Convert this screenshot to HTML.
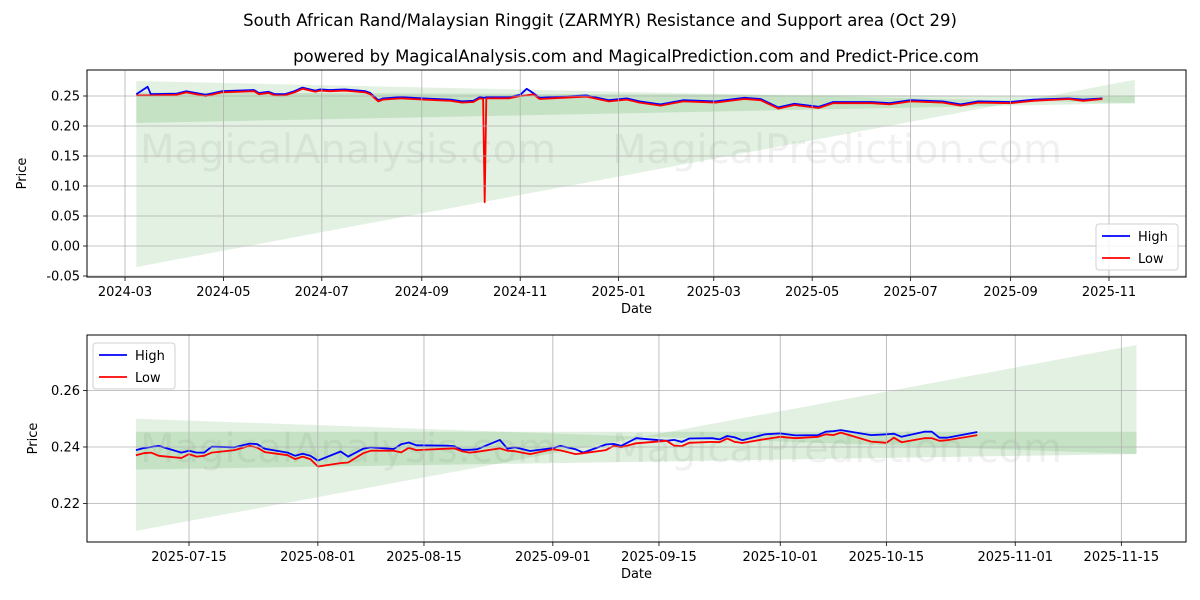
<!DOCTYPE html>
<html><head><meta charset="utf-8"><style>
html,body{margin:0;padding:0;background:#fff;}
svg{display:block;font-family:"DejaVu Sans","Liberation Sans",sans-serif;}
</style></head><body>
<svg id="chart" width="1200" height="600" viewBox="0 0 1200 600" xmlns="http://www.w3.org/2000/svg">
<rect x="0" y="0" width="1200" height="600" fill="#fff"/>
<text x="600" y="26" text-anchor="middle" font-size="16.5" fill="#000">South African Rand/Malaysian Ringgit (ZARMYR) Resistance and Support area (Oct 29)</text>
<text x="636" y="62" text-anchor="middle" font-size="16.5" fill="#000">powered by MagicalAnalysis.com and MagicalPrediction.com and Predict-Price.com</text>
<g id="top"></g>
<g id="bot"></g>
</svg>
<script>
// ---- Top panel data ----
const topDates = ["2024-03-08","2024-03-15","2024-03-17","2024-04-02","2024-04-08","2024-04-20","2024-04-30","2024-05-20","2024-05-23","2024-05-29","2024-06-02","2024-06-08","2024-06-14","2024-06-19","2024-06-27","2024-06-30","2024-07-06","2024-07-15","2024-07-28","2024-07-31","2024-08-05","2024-08-08","2024-08-19","2024-09-02","2024-09-19","2024-09-26","2024-10-03","2024-10-07","2024-10-09","2024-10-10","2024-10-11","2024-10-25","2024-11-01","2024-11-05","2024-11-09","2024-11-13","2024-11-27","2024-12-12","2024-12-26","2025-01-06","2025-01-14","2025-01-27","2025-02-10","2025-03-02","2025-03-20","2025-03-30","2025-04-10","2025-04-20","2025-05-05","2025-05-14","2025-06-07","2025-06-18","2025-07-01","2025-07-21","2025-08-01","2025-08-12","2025-09-01","2025-09-15","2025-10-07","2025-10-16","2025-10-28"];
const topHigh = [0.253,0.2655,0.253,0.254,0.258,0.252,0.258,0.260,0.255,0.257,0.253,0.253,0.258,0.264,0.259,0.261,0.260,0.261,0.258,0.255,0.243,0.246,0.248,0.246,0.244,0.241,0.242,0.248,0.247,0.247,0.248,0.248,0.252,0.262,0.255,0.247,0.249,0.251,0.243,0.246,0.241,0.236,0.243,0.241,0.247,0.245,0.231,0.237,0.232,0.240,0.240,0.238,0.243,0.241,0.236,0.241,0.240,0.244,0.246,0.244,0.246];
const topLow = [0.251,0.251,0.251,0.252,0.256,0.250,0.256,0.258,0.253,0.255,0.251,0.251,0.256,0.262,0.257,0.259,0.258,0.259,0.256,0.253,0.241,0.244,0.246,0.244,0.242,0.239,0.240,0.246,0.245,0.073,0.246,0.246,0.250,0.251,0.253,0.245,0.247,0.249,0.241,0.244,0.239,0.234,0.241,0.239,0.245,0.243,0.229,0.235,0.230,0.238,0.238,0.236,0.241,0.239,0.234,0.239,0.238,0.242,0.245,0.242,0.245];
const topBandDates = ["2024-03-08","2025-11-17"];
const topOuterUpper = [0.275,0.238];
const topOuterLower = [-0.035,0.277];
const topInnerUpper = [0.256,0.250];
const topInnerLower = [0.205,0.238];
const topYTicks = [-0.05,0.00,0.05,0.10,0.15,0.20,0.25];
const topXTicks = ["2024-03-01","2024-05-01","2024-07-01","2024-09-01","2024-11-01","2025-01-01","2025-03-01","2025-05-01","2025-07-01","2025-09-01","2025-11-01"];
const topXLabels = ["2024-03","2024-05","2024-07","2024-09","2024-11","2025-01","2025-03","2025-05","2025-07","2025-09","2025-11"];

// ---- Bottom panel data ----
const botDates = ["2025-07-08","2025-07-09","2025-07-10","2025-07-11","2025-07-14","2025-07-15","2025-07-16","2025-07-17","2025-07-18","2025-07-21","2025-07-23","2025-07-24","2025-07-25","2025-07-28","2025-07-29","2025-07-30","2025-07-31","2025-08-01","2025-08-04","2025-08-05","2025-08-07","2025-08-08","2025-08-11","2025-08-12","2025-08-13","2025-08-14","2025-08-18","2025-08-19","2025-08-20","2025-08-21","2025-08-22","2025-08-25","2025-08-26","2025-08-27","2025-08-29","2025-09-01","2025-09-02","2025-09-04","2025-09-05","2025-09-08","2025-09-09","2025-09-10","2025-09-12","2025-09-16","2025-09-17","2025-09-18","2025-09-19","2025-09-22","2025-09-23","2025-09-24","2025-09-25","2025-09-26","2025-09-29","2025-10-01","2025-10-03","2025-10-06","2025-10-07","2025-10-08","2025-10-09","2025-10-13","2025-10-15","2025-10-16","2025-10-17","2025-10-20","2025-10-21","2025-10-22","2025-10-23","2025-10-27"];
const botHigh = [0.2389,0.2396,0.2400,0.2404,0.2380,0.2387,0.2380,0.2380,0.2401,0.2399,0.2412,0.2410,0.2394,0.2380,0.2369,0.2376,0.2369,0.2352,0.2384,0.2366,0.2394,0.2399,0.2393,0.2410,0.2416,0.2406,0.2405,0.2403,0.2390,0.2390,0.2392,0.2425,0.2394,0.2399,0.2386,0.2396,0.2404,0.2392,0.2380,0.2409,0.2411,0.2404,0.2431,0.2422,0.2425,0.2418,0.2430,0.2431,0.2427,0.2439,0.2434,0.2424,0.2445,0.2448,0.2441,0.2442,0.2454,0.2456,0.2460,0.2442,0.2445,0.2447,0.2436,0.2454,0.2454,0.2433,0.2433,0.2453];
const botLow = [0.2371,0.2378,0.2380,0.2369,0.2361,0.2375,0.2366,0.2369,0.2380,0.2389,0.2404,0.2398,0.2382,0.2371,0.2357,0.2366,0.2357,0.2331,0.2343,0.2345,0.2378,0.2387,0.2387,0.2381,0.2397,0.2389,0.2394,0.2395,0.2385,0.2380,0.2383,0.2395,0.2387,0.2385,0.2375,0.2392,0.2388,0.2375,0.2378,0.2389,0.2404,0.2399,0.2413,0.2422,0.2405,0.2403,0.2415,0.2418,0.2417,0.2430,0.2418,0.2414,0.2428,0.2436,0.2431,0.2436,0.2445,0.2442,0.2451,0.2419,0.2415,0.2433,0.2417,0.2431,0.2431,0.2422,0.2424,0.2442];
const botBandDates = ["2025-07-08","2025-11-17"];
const botOuterUpper = [0.250,0.2375];
const botOuterLower = [0.2103,0.2761];
const botInnerUpper = [0.2454,0.2454];
const botInnerLower = [0.2320,0.2375];
const botYTicks = [0.22,0.24,0.26];
const botXTicks = ["2025-07-15","2025-08-01","2025-08-15","2025-09-01","2025-09-15","2025-10-01","2025-10-15","2025-11-01","2025-11-15"];

const NS = "http://www.w3.org/2000/svg";
const DAY = 86400000;
function t(s){ const p=s.split("-"); return Date.UTC(+p[0],+p[1]-1,+p[2])/DAY; }
function mk(parent, tag, attrs){ const e=document.createElementNS(NS,tag); for(const k in attrs) e.setAttribute(k,attrs[k]); parent.appendChild(e); return e; }

function drawPanel(g, cfg){
  const {L,R,T,B} = cfg;
  const xs = d => cfg.x0 + (t(d) - t(cfg.xRef)) * cfg.pxPerDay;
  const ys = v => cfg.yRefPx - (v - cfg.yRef) * cfg.pxPerUnit;
  const clip = mk(g,"clipPath",{id:cfg.id+"-clip"});
  mk(clip,"rect",{x:L,y:T,width:R-L,height:B-T});
  const area = mk(g,"g",{"clip-path":"url(#"+cfg.id+"-clip)"});
  cfg.marks.forEach(m=>{
    const w = mk(area,"text",{x:m[0],y:m[1],"font-size":40,fill:"#808080","fill-opacity":0.11,"text-anchor":"middle"});
    w.textContent = m[2];
    
    
  });
  const bd = cfg.bandDates;
  const xa = xs(bd[0]), xb = xs(bd[1]);
  const outer = mk(area,"polygon",{points:`${xa},${ys(cfg.ou[0])} ${xb},${ys(cfg.ou[1])} ${xb},${ys(cfg.ol[1])} ${xa},${ys(cfg.ol[0])}`, fill:"#008000","fill-opacity":0.11});
  
  
  const inner = mk(area,"polygon",{points:`${xa},${ys(cfg.iu[0])} ${xb},${ys(cfg.iu[1])} ${xb},${ys(cfg.il[1])} ${xa},${ys(cfg.il[0])}`, fill:"#008000","fill-opacity":0.13});
  
  
  cfg.yTicks.forEach(v=>{
    const y=ys(v);
    const gl=mk(g,"line",{x1:L,x2:R,y1:y,y2:y,stroke:"#b0b0b0","stroke-width":0.8});
    
    
    mk(g,"line",{x1:L-4,x2:L,y1:y,y2:y,stroke:"#000","stroke-width":0.8});
    const tl=mk(g,"text",{x:L-7,y:y+4.5,"font-size":13,"text-anchor":"end",fill:"#000"});
    tl.textContent = v.toFixed(2);
    
    
  });
  cfg.xTicks.forEach((d,i)=>{
    const x=xs(d);
    const gl=mk(g,"line",{x1:x,x2:x,y1:T,y2:B,stroke:"#b0b0b0","stroke-width":0.8});
    
    
    mk(g,"line",{x1:x,x2:x,y1:B,y2:B+4,stroke:"#000","stroke-width":0.8});
    const tl=mk(g,"text",{x:x,y:B+19,"font-size":13,"text-anchor":"middle",fill:"#000"});
    tl.textContent = cfg.xLabels[i];
    
    
  });
  const hp = cfg.dates.map((d,i)=>xs(d).toFixed(1)+","+ys(cfg.high[i]).toFixed(1)).join(" ");
  const lp = cfg.dates.map((d,i)=>xs(d).toFixed(1)+","+ys(cfg.low[i]).toFixed(1)).join(" ");
  const hl = mk(area,"polyline",{points:hp,fill:"none",stroke:"#0000ff","stroke-width":1.8,"stroke-linejoin":"round"});
  
  
  const ll = mk(area,"polyline",{points:lp,fill:"none",stroke:"#ff0000","stroke-width":1.8,"stroke-linejoin":"round"});
  
  
  const fr = mk(g,"rect",{x:L,y:T,width:R-L,height:B-T,fill:"none",stroke:"#000","stroke-width":1});
  
  
  const xt = mk(g,"text",{x:(L+R)/2,y:B+36,"font-size":13,"text-anchor":"middle",fill:"#000"});
  xt.textContent="Date";
  
  
  const yc=(T+B)/2;
  const yt = mk(g,"text",{x:cfg.yTitleX,y:yc,"font-size":13,"text-anchor":"middle",fill:"#000",transform:`rotate(-90 ${cfg.yTitleX} ${yc})`});
  yt.textContent="Price";
  
  
  const lg = mk(g,"g",{});
  
  
  const [lx,ly]=cfg.legend;
  mk(lg,"rect",{x:lx,y:ly,width:82,height:46,rx:3,fill:"#fff","fill-opacity":0.85,stroke:"#d0d0d0","stroke-width":1});
  [["High","#0000ff"],["Low","#ff0000"]].forEach((e,i)=>{
    const en = mk(lg,"g",{});
    
    
    const yy = ly+12+i*22;
    mk(en,"line",{x1:lx+6,x2:lx+34,y1:yy,y2:yy,stroke:e[1],"stroke-width":1.8});
    const tx = mk(en,"text",{x:lx+42,y:yy+5,"font-size":13,fill:"#000"});
    tx.textContent=e[0];
  });
}

drawPanel(document.getElementById("top"),{
  id:"top",L:87,R:1186,T:70,B:277,
  x0:125,xRef:"2024-03-01",pxPerDay:1.6131,
  yRefPx:246,yRef:0,pxPerUnit:600,
  dates:topDates,high:topHigh,low:topLow,
  bandDates:topBandDates,ou:topOuterUpper,ol:topOuterLower,iu:topInnerUpper,il:topInnerLower,
  yTicks:topYTicks,xTicks:topXTicks,xLabels:topXLabels,
  yTitleX:26,legend:[1096,224],
  marks:[[348,163,"MagicalAnalysis.com"],[837,163,"MagicalPrediction.com"],[348,312,"MagicalAnalysis.com"],[837,312,"MagicalPrediction.com"]]
});
drawPanel(document.getElementById("bot"),{
  id:"bot",L:87,R:1186,T:335,B:542,
  x0:189,xRef:"2025-07-15",pxPerDay:7.58,
  yRefPx:447,yRef:0.24,pxPerUnit:2825,
  dates:botDates,high:botHigh,low:botLow,
  bandDates:botBandDates,ou:botOuterUpper,ol:botOuterLower,iu:botInnerUpper,il:botInnerLower,
  yTicks:botYTicks,xTicks:botXTicks,xLabels:botXTicks,
  yTitleX:37,legend:[93,343],
  marks:[[348,462,"MagicalAnalysis.com"],[837,462,"MagicalPrediction.com"]]
});
</script>
</body></html>
